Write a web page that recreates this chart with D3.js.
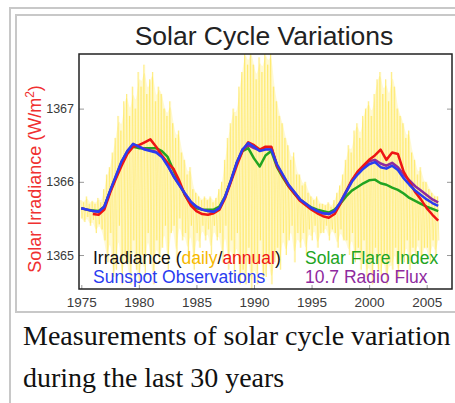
<!DOCTYPE html>
<html>
<head>
<meta charset="utf-8">
<script src="https://cdn.jsdelivr.net/npm/d3@7"></script>
<style>
  body { margin: 0; background: #fff; }
  svg { display: block; }
</style>
</head>
<body>
<div id="chart"></div>
<script>
// sample times for the annual curves (every half year)
const annualYears = d3.range(1975, 2006.25, 0.5);

const sunspot = [
  1365.64, 1365.62, 1365.60, 1365.59, 1365.66, 1365.88, 1366.08, 1366.28, 1366.42, 1366.52,
  1366.48, 1366.44, 1366.42, 1366.40, 1366.34, 1366.22, 1366.08, 1365.96, 1365.84, 1365.73,
  1365.66, 1365.62, 1365.60, 1365.59, 1365.64, 1365.80, 1366.02, 1366.26, 1366.44, 1366.53,
  1366.48, 1366.42, 1366.44, 1366.44, 1366.24, 1366.10, 1365.96, 1365.86, 1365.76, 1365.70,
  1365.64, 1365.60, 1365.57, 1365.56, 1365.60, 1365.72, 1365.86, 1366.00, 1366.10, 1366.18,
  1366.24, 1366.27, 1366.20, 1366.18, 1366.22, 1366.16, 1366.05, 1365.96, 1365.88, 1365.82,
  1365.76, 1365.71, 1365.67
];

const irradianceAnnual = [
  null, null, 1365.56, 1365.55, 1365.62, 1365.85, 1366.04, 1366.22, 1366.38, 1366.48,
  1366.50, 1366.54, 1366.58, 1366.48, 1366.36, 1366.26, 1366.18, 1366.02, 1365.82, 1365.68,
  1365.60, 1365.56, 1365.55, 1365.57, 1365.62, 1365.78, 1366.00, 1366.22, 1366.42, 1366.54,
  1366.50, 1366.44, 1366.48, 1366.48, 1366.22, 1366.08, 1365.94, 1365.84, 1365.74, 1365.68,
  1365.62, 1365.57, 1365.53, 1365.51, 1365.56, 1365.70, 1365.86, 1366.02, 1366.14, 1366.22,
  1366.30, 1366.36, 1366.44, 1366.30, 1366.40, 1366.38, 1366.14, 1366.00, 1365.86, 1365.76,
  1365.64, 1365.55, 1365.47
];

const flareIndex = [
  1365.64, 1365.62, 1365.61, 1365.60, 1365.66, 1365.87, 1366.06, 1366.26, 1366.40, 1366.48,
  1366.46, 1366.46, 1366.46, 1366.46, 1366.42, 1366.34, 1366.16, 1365.98, 1365.82, 1365.70,
  1365.64, 1365.62, 1365.62, 1365.62, 1365.66, 1365.80, 1366.02, 1366.26, 1366.42, 1366.46,
  1366.32, 1366.21, 1366.36, 1366.42, 1366.20, 1366.06, 1365.94, 1365.84, 1365.76, 1365.70,
  1365.65, 1365.62, 1365.60, 1365.58, 1365.62, 1365.70, 1365.80, 1365.88, 1365.93, 1365.98,
  1366.02, 1366.03, 1365.98, 1365.96, 1365.92, 1365.89, 1365.84, 1365.78, 1365.74, 1365.70,
  1365.66, 1365.63, 1365.60
];

const radioFlux = [
  1365.64, 1365.62, 1365.60, 1365.59, 1365.66, 1365.87, 1366.07, 1366.27, 1366.42, 1366.51,
  1366.48, 1366.45, 1366.43, 1366.41, 1366.35, 1366.23, 1366.08, 1365.96, 1365.84, 1365.73,
  1365.66, 1365.62, 1365.60, 1365.59, 1365.64, 1365.80, 1366.02, 1366.26, 1366.44, 1366.50,
  1366.46, 1366.43, 1366.47, 1366.47, 1366.22, 1366.09, 1365.96, 1365.86, 1365.76, 1365.70,
  1365.64, 1365.60, 1365.57, 1365.56, 1365.60, 1365.72, 1365.87, 1366.02, 1366.13, 1366.21,
  1366.28, 1366.30, 1366.25, 1366.22, 1366.26, 1366.20, 1366.10, 1366.02, 1365.94, 1365.88,
  1365.82, 1365.76, 1365.72
];

// daily irradiance envelope, sampled every quarter year from 1975.0
const dailyStart = 1975;
const dailyStep = 0.25;
const dailyHigh = [
  1365.75, 1365.72, 1365.80, 1365.70, 1365.74, 1365.70, 1365.78, 1365.72,
  1365.90, 1366.10, 1366.20, 1366.40, 1366.60, 1366.90, 1366.70, 1367.10,
  1367.20, 1366.90, 1367.30, 1367.00, 1367.50, 1367.30, 1367.60, 1367.20,
  1367.40, 1367.50, 1367.10, 1367.30, 1367.20, 1367.00, 1366.90, 1367.10,
  1366.80, 1366.60, 1366.70, 1366.40, 1366.30, 1366.10, 1366.20, 1365.90,
  1365.85, 1365.80, 1365.75, 1365.80, 1365.75, 1365.80, 1365.72, 1365.78,
  1365.90, 1366.00, 1366.30, 1366.60, 1366.80, 1367.00, 1366.90, 1367.30,
  1367.50, 1367.80, 1367.60, 1367.80, 1367.60, 1367.40, 1367.70, 1367.50,
  1367.80, 1367.60, 1367.80, 1367.30, 1367.10, 1366.90, 1366.80, 1366.60,
  1366.50, 1366.30, 1366.40, 1366.10, 1366.10, 1365.95, 1366.00, 1365.85,
  1365.80, 1365.75, 1365.80, 1365.70, 1365.70, 1365.68, 1365.72, 1365.66,
  1365.75, 1365.85, 1365.95, 1366.10, 1366.30, 1366.50, 1366.40, 1366.70,
  1366.80, 1366.60, 1366.90, 1367.00, 1367.10, 1366.90, 1367.20, 1367.40,
  1367.50, 1367.20, 1367.40, 1367.10, 1367.50, 1367.30, 1367.00, 1366.90,
  1366.80, 1366.60, 1366.70, 1366.40, 1366.30, 1366.10, 1366.20, 1366.00,
  1366.00, 1365.90, 1365.85, 1365.80, 1365.80
];
const dailyLow = [
  1365.50, 1365.45, 1365.52, 1365.40, 1365.48, 1365.30, 1365.42, 1365.35,
  1365.20, 1364.90, 1365.30, 1364.70, 1364.80, 1365.40, 1364.60, 1365.00,
  1364.90, 1364.60, 1365.20, 1364.80, 1364.60, 1365.00, 1364.70, 1365.30,
  1365.00, 1364.60, 1365.20, 1364.90, 1365.10, 1365.40, 1364.80, 1365.30,
  1365.40, 1364.90, 1365.50, 1365.20, 1365.30, 1365.00, 1365.40, 1364.80,
  1365.30, 1365.10, 1365.40, 1365.20, 1365.35, 1365.00, 1365.40, 1365.20,
  1365.30, 1364.90, 1365.40, 1364.80, 1365.20, 1364.70, 1365.30, 1364.60,
  1364.80, 1364.60, 1365.10, 1364.50, 1364.90, 1364.60, 1365.20, 1364.70,
  1364.70, 1365.00, 1364.60, 1364.90, 1365.10, 1364.80, 1365.30, 1365.00,
  1365.20, 1365.40, 1364.90, 1365.30, 1365.10, 1365.30, 1365.00, 1365.35,
  1365.20, 1365.40, 1365.10, 1365.30, 1365.30, 1365.40, 1365.20, 1365.35,
  1365.30, 1365.10, 1365.35, 1365.20, 1365.20, 1365.00, 1365.30, 1364.90,
  1365.10, 1364.80, 1365.20, 1364.70, 1364.90, 1364.60, 1365.10, 1364.80,
  1364.70, 1365.00, 1364.60, 1364.90, 1364.80, 1365.10, 1364.70, 1365.00,
  1364.90, 1365.20, 1364.80, 1365.10, 1365.00, 1365.20, 1364.90, 1365.10,
  1365.10, 1364.90, 1365.20, 1365.00, 1365.20
];

const yTicks = [1365, 1366, 1367];
const xTicks = [1975, 1980, 1985, 1990, 1995, 2000, 2005];

const W = 455, H = 403;
const frame = {left: 79, right: 452, top: 54, bottom: 289};
const sans = "'Liberation Sans', Arial, sans-serif";

const svg = d3.select("#chart").append("svg")
  .attr("width", W)
  .attr("height", H);

// page borders (thumbnail frame)
const border = "#c8c8c8";
svg.append("rect").attr("x", 9).attr("y", 7).attr("width", W).attr("height", 2).attr("fill", border);
svg.append("rect").attr("x", 9).attr("y", 7).attr("width", 2).attr("height", H).attr("fill", border);
svg.append("rect").attr("x", 15).attr("y", 14).attr("width", W).attr("height", 2).attr("fill", border);
svg.append("rect").attr("x", 15).attr("y", 14).attr("width", 2).attr("height", 299).attr("fill", border);
svg.append("rect").attr("x", 15).attr("y", 311).attr("width", W).attr("height", 2).attr("fill", border);

const x = d3.scaleLinear().domain([1974.8, 2007.2]).range([frame.left, frame.right]);
const y = d3.scaleLinear().domain([1364.536, 1367.746]).range([frame.bottom, frame.top]);

svg.append("defs").append("clipPath").attr("id", "plotClip")
  .append("rect")
  .attr("x", frame.left).attr("y", frame.top)
  .attr("width", frame.right - frame.left).attr("height", frame.bottom - frame.top);

const plot = svg.append("g").attr("clip-path", "url(#plotClip)");

const dailyPts = dailyHigh.map((h, i) => ({t: dailyStart + i * dailyStep, hi: h, lo: dailyLow[i]}));

// soft glow of the daily scatter
plot.append("path")
  .datum(dailyPts)
  .attr("fill", "#fff2a0")
  .attr("fill-opacity", 0.45)
  .attr("d", d3.area().curve(d3.curveBasis).x(d => x(d.t)).y0(d => y(d.lo)).y1(d => y(d.hi)));

// daily values: zigzag between the high and low envelope
const daily = [];
dailyPts.forEach(d => {
  daily.push({t: d.t - 0.07, v: d.hi});
  daily.push({t: d.t + 0.07, v: d.lo});
});

plot.append("g")
  .selectAll("line")
  .data(dailyPts)
  .enter()
  .append("line")
  .attr("x1", d => x(d.t)).attr("x2", d => x(d.t))
  .attr("y1", d => y(d.hi)).attr("y2", d => y(d.lo))
  .attr("stroke", "#ffe640")
  .attr("stroke-opacity", 0.18)
  .attr("stroke-width", 1.4);

plot.append("path")
  .datum(daily)
  .attr("fill", "none")
  .attr("stroke", "#ffd900")
  .attr("stroke-opacity", 0.3)
  .attr("stroke-width", 0.9)
  .attr("d", d3.line().x(d => x(d.t)).y(d => y(d.v)));

const series = [
  {values: flareIndex, color: "#22a422"},
  {values: radioFlux, color: "#8e2a9e"},
  {values: irradianceAnnual, color: "#ee1515"},
  {values: sunspot, color: "#2a3cf0"}
];

const line = d3.line()
  .defined(d => d.v != null)
  .x(d => x(d.t))
  .y(d => y(d.v));

series.forEach(s => {
  plot.append("path")
    .datum(s.values.map((v, i) => ({t: annualYears[i], v: v})))
    .attr("fill", "none")
    .attr("stroke", s.color)
    .attr("stroke-width", 2.5)
    .attr("stroke-linejoin", "round")
    .attr("d", line);
});

// axes
const axisLeft = svg.append("g")
  .attr("transform", `translate(${frame.left},0)`)
  .call(d3.axisLeft(y).tickValues(yTicks).tickFormat(d3.format("d")).tickSizeInner(-5).tickSizeOuter(0).tickPadding(5));
const axisRight = svg.append("g")
  .attr("transform", `translate(${frame.right},0)`)
  .call(d3.axisRight(y).tickValues(yTicks).tickFormat("").tickSizeInner(-5).tickSizeOuter(0));
const axisBottom = svg.append("g")
  .attr("transform", `translate(0,${frame.bottom})`)
  .call(d3.axisBottom(x).tickValues(xTicks).tickFormat(d3.format("d")).tickSizeInner(-4).tickSizeOuter(0).tickPadding(8));

[axisLeft, axisRight, axisBottom].forEach(g => {
  g.select(".domain").remove();
  g.selectAll(".tick line").attr("stroke", "#999");
  g.selectAll("text")
    .attr("fill", "#3a3a3a")
    .style("font-family", sans);
});
axisLeft.selectAll("text").style("font-size", "12.5px");
axisBottom.selectAll("text").style("font-size", "13.5px");

svg.append("rect")
  .attr("x", frame.left).attr("y", frame.top)
  .attr("width", frame.right - frame.left).attr("height", frame.bottom - frame.top)
  .attr("fill", "none")
  .attr("stroke", "#222")
  .attr("stroke-width", 1.5);

// title
svg.append("text")
  .attr("x", 264).attr("y", 45)
  .attr("text-anchor", "middle")
  .attr("fill", "#222")
  .style("font-family", sans)
  .style("font-size", "26.5px")
  .text("Solar Cycle Variations");

// y axis label
const yLabel = svg.append("text")
  .attr("transform", "translate(41,179) rotate(-90)")
  .attr("text-anchor", "middle")
  .attr("fill", "#f03030")
  .style("font-family", sans)
  .style("font-size", "18px");
yLabel.append("tspan").text("Solar Irradiance (W/m");
yLabel.append("tspan").attr("dy", -7).style("font-size", "12px").text("2");
yLabel.append("tspan").attr("dy", 7).text(")");

// legend
const legend = svg.append("g").style("font-family", sans).style("font-size", "17.5px");
const l1 = legend.append("text").attr("x", 93).attr("y", 264).attr("fill", "#111");
l1.append("tspan").text("Irradiance (");
l1.append("tspan").attr("fill", "#f6b800").text("daily");
l1.append("tspan").text("/");
l1.append("tspan").attr("fill", "#ee1515").text("annual");
l1.append("tspan").text(")");
legend.append("text").attr("x", 93).attr("y", 283).attr("fill", "#2a3cf0").text("Sunspot Observations");
legend.append("text").attr("x", 305).attr("y", 264).attr("fill", "#22a422").text("Solar Flare Index");
legend.append("text").attr("x", 305).attr("y", 283).attr("fill", "#8e2a9e").text("10.7 Radio Flux");

// caption
const serif = "'Liberation Serif', 'Times New Roman', serif";
svg.append("text").attr("x", 23).attr("y", 345)
  .style("font-family", serif).style("font-size", "28px").attr("fill", "#111")
  .text("Measurements of solar cycle variation");
svg.append("text").attr("x", 23).attr("y", 387)
  .style("font-family", serif).style("font-size", "28px").attr("fill", "#111")
  .text("during the last 30 years");
</script>
</body>
</html>
